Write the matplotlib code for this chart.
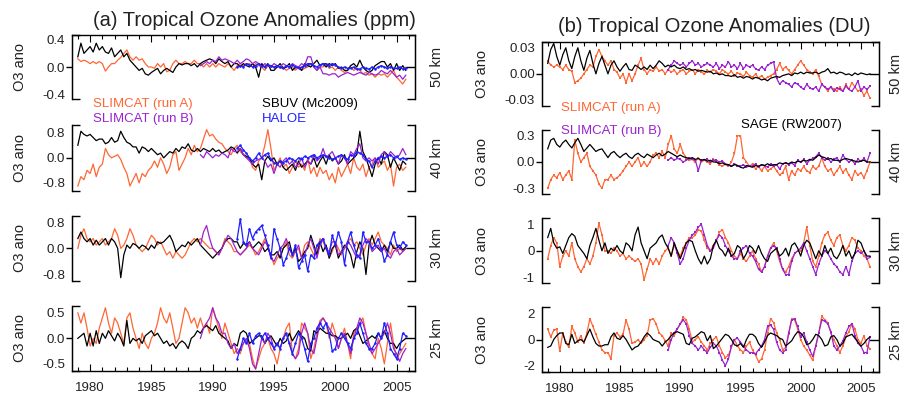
import numpy as np
import matplotlib
matplotlib.use('Agg')
import matplotlib.pyplot as plt
from matplotlib.ticker import FixedLocator, MultipleLocator

plt.rcParams['font.family'] = ['Liberation Sans', 'DejaVu Sans']

# quarterly anomalies (one row = one year, Jan/Apr/Jul/Oct)
# run A and the observations start in 1979, run B in 1989, HALOE in 1992
START_A = 1979
START_B = 1989
START_HALOE = 1992
year_ticks = [1980, 1985, 1990, 1995, 2000, 2005]

# ---------------- (a) ppm ----------------
a50_runA = [0.12, 0.08, 0.10, 0.08,   0.05, 0.08, 0.05, 0.08,   0.05, -0.06, 0.00, 0.05,
            0.05, 0.10, 0.14, 0.20,   0.25, 0.15, 0.10, 0.15,   0.10, 0.12, 0.05, 0.00,
            0.00, -0.02, 0.05, 0.00,  0.05, -0.07, -0.05, 0.05, 0.10, 0.05, 0.05, 0.08,
            0.05, 0.05, 0.10, 0.05,   0.05, 0.00, 0.05, 0.00,   0.05, 0.00, 0.05, 0.02,
            0.00, 0.05, 0.00, -0.05,  0.02, 0.05, 0.02, 0.05,   0.05, 0.00, 0.05, 0.02,
            0.00, -0.05, 0.02, 0.00,  0.00, 0.02, -0.02, 0.00,  -0.05, -0.02, 0.00, -0.05,
            0.00, -0.05, -0.02, 0.00, 0.05, 0.00, -0.05, 0.00,  0.00, 0.05, -0.02, 0.00,
            -0.05, 0.00, -0.05, -0.08, -0.05, 0.00, -0.05, -0.02, -0.05, -0.10, -0.08, -0.12,
            -0.10, -0.15, -0.10, -0.12, -0.10, -0.15, -0.10, -0.05, -0.15, -0.20, -0.25, -0.18]
a50_runB = [0.02, 0.05, 0.08, 0.05,   0.10, 0.08, 0.15, 0.10,   0.12, 0.10, 0.08, 0.05,
            0.10, 0.05, 0.08, 0.12,   0.10, 0.05, 0.08, 0.05,   0.00, 0.05, 0.02, 0.00,
            0.05, 0.02, 0.00, 0.05,   0.02, 0.00, 0.05, 0.02,   0.00, 0.05, 0.02, 0.15,
            0.15, 0.00, -0.05, 0.00,  -0.10, -0.10, -0.12, -0.10, -0.10, -0.15, -0.12, -0.10,
            -0.08, -0.10, -0.12, -0.10, -0.08, -0.10, -0.12, -0.08, -0.10, -0.12, -0.10, -0.05,
            -0.08, -0.10, -0.05, -0.10, -0.15, -0.12, -0.18, -0.12]
a50_sbuv = [0.15, 0.35, 0.20, 0.25,   0.30, 0.22, 0.35, 0.25,   0.30, 0.22, 0.20, 0.28,
            0.15, 0.20, 0.25, 0.15,   0.20, 0.10, 0.05, 0.00,   -0.05, -0.02, -0.10, -0.12,
            -0.08, -0.05, -0.02, -0.10, -0.05, -0.02, -0.05, -0.08, 0.00, 0.05, 0.03, 0.05,
            0.05, 0.02, 0.05, 0.00,   0.05, 0.08, 0.10, 0.12,   0.10, 0.05, 0.12, 0.08,
            0.05, 0.08, 0.00, 0.05,   0.05, 0.00, 0.05, 0.02,   0.00, 0.05, 0.00, -0.15,
            0.05, 0.00, 0.05, -0.05,  -0.05, 0.00, 0.05, -0.02, 0.00, 0.05, -0.05, 0.00,
            0.00, -0.05, 0.05, 0.02,  0.00, 0.05, 0.10, 0.02,   0.05, 0.00, 0.05, 0.02,
            0.05, -0.02, 0.00, -0.05, -0.05, 0.02, 0.05, 0.00,  0.10, 0.00, -0.05, -0.08,
            -0.05, 0.02, 0.05, 0.08,  0.08, 0.00, 0.05, -0.05,  0.05, -0.05, 0.02, -0.05]
a50_haloe = [0.00, 0.02, 0.00, 0.05,  0.03, 0.00, 0.02, 0.05,   0.02, 0.00, 0.03, 0.02,
             0.00, 0.02, 0.00, -0.02, 0.02, 0.00, 0.03, 0.00,   -0.02, 0.00, 0.02, 0.05,
             0.05, 0.02, 0.00, 0.03,  0.05, 0.05, 0.02, 0.05,   0.03, 0.00, -0.02, 0.00,
             -0.02, -0.02, 0.00, -0.03, -0.03, 0.00, -0.02, -0.03, 0.00, -0.03, 0.00, 0.02,
             0.00, -0.02, 0.00, -0.02, -0.02, 0.00, -0.03, -0.02]

a40_runA = [-0.90, -0.60, -0.70, -0.40, -0.50, -0.20, -0.60, -0.30, -0.20, 0.30, 0.10, 0.00,
            0.05, 0.10, -0.05, -0.30, -0.50, -0.90, -0.70, -0.50, -0.80, -0.50, -0.60, -0.40,
            -0.30, -0.10, -0.30, 0.00, -0.20, -0.50, -0.30, 0.10, 0.20, -0.40, -0.20, 0.00,
            0.30, 0.10, 0.40, 0.20,   0.30, 0.60, 0.90, 0.70,   0.75, 0.60, 0.50, 0.45,
            0.30, 0.20, 0.10, 0.30,   0.40, 0.20, 0.10, 0.00,   0.00, -0.30, -0.40, -0.10,
            0.00, 0.40, 0.90, 0.30,   -0.40, -0.20, 0.00, -0.30, -0.20, -0.50, -0.30, -0.10,
            -0.30, -0.20, -0.40, 0.00, -0.50, -0.30, -0.60, -0.30, -0.50, -0.40, -0.70, -0.50,
            -0.80, -0.30, -0.60, -0.40, -0.20, -0.50, 0.00, -0.30, -0.40, -0.20, -0.60, -0.30,
            -0.20, 0.00, -0.30, -0.20, -0.10, -0.40, -0.20, -0.90, -0.30, -0.20, -0.40, -0.30]
a40_runB = [0.10, 0.00, 0.20, 0.10,   0.00, 0.10, 0.05, 0.15,   0.10, 0.00, 0.30, 0.20,
            0.20, 0.30, 0.10, 0.00,   -0.10, -0.20, -0.10, -0.05, 0.00, -0.10, -0.30, -0.20,
            -0.50, -0.20, -0.30, -0.10, 0.00, -0.20, -0.10, -0.30, -0.20, 0.00, -0.30, -0.10,
            -0.20, 0.10, -0.10, 0.00, 0.30, 0.00, 0.10, 0.20,   0.00, -0.20, 0.10, 0.00,
            -0.20, 0.20, 0.10, 0.30,  0.45, 0.00, -0.10, 0.00,  -0.10, 0.00, -0.20, 0.10,
            0.20, 0.00, 0.20, 0.10,   0.00, 0.10, 0.30, 0.10]
a40_sbuv = [0.40, 0.85, 0.75, 0.70,   0.75, 0.65, 0.55, 0.60,   0.60, 0.45, 0.50, 0.65,
            0.50, 0.55, 0.85, 0.65,   0.50, 0.45, 0.35, 0.35,   0.15, 0.35, 0.30, 0.20,
            0.30, 0.20, 0.10, 0.15,   0.00, 0.10, 0.20, 0.15,   0.30, 0.20, 0.35, 0.30,
            0.45, 0.25, 0.20, 0.30,   0.20, 0.30, 0.25, 0.20,   0.30, 0.20, 0.25, 0.15,
            0.20, 0.25, 0.35, 0.30,   0.15, 0.30, 0.10, 0.05,   0.00, -0.20, -0.30, -0.20,
            -0.70, -0.10, 0.05, -0.10, 0.00, -0.20, -0.10, -0.30, -0.40, -0.30, -0.20, -0.40,
            -0.10, -0.30, -0.20, -0.10, -0.20, 0.00, -0.30, -0.10, 0.05, -0.20, 0.10, -0.10,
            0.00, -0.20, -0.10, 0.10, -0.20, -0.10, 0.00, 0.10,  0.85, 0.20, 0.00, -0.30,
            -0.60, -0.20, 0.00, -0.20, 0.20, 0.10, -0.30, 0.00,  -0.20, -0.40, -0.10, -0.20]
a40_haloe = [0.30, 0.40, 0.25, 0.15,  0.00, -0.10, 0.00, 0.15,  0.00, 0.10, 0.15, -0.05,
             -0.15, -0.20, -0.10, -0.15, -0.10, 0.00, -0.05, -0.10, 0.00, -0.05, 0.05, 0.00,
             0.05, 0.10, 0.00, 0.05,  0.10, 0.05, 0.00, -0.05,  0.00, 0.05, 0.10, 0.00,
             -0.05, 0.10, 0.05, 0.20, 0.15, 0.10, -0.05, -0.10, -0.30, -0.10, 0.00, 0.05,
             0.00, 0.05, 0.10, 0.00,  0.05, -0.05, 0.00, -0.05]

a30_runA = [0.00, 0.40, 0.60, 0.30,   0.20, 0.30, 0.10, 0.20,   0.30, 0.10, 0.20, 0.30,
            0.60, 0.40, 0.00, 0.10,   0.30, 0.60, 0.40, 0.10,   0.00, -0.10, 0.00, 0.20,
            0.40, 0.30, 0.10, 0.20,   0.00, -0.20, -0.10, -0.30, -0.10, -0.20, -0.30, -0.20,
            0.00, 0.20, 0.30, 0.20,   0.30, 0.20, 0.10, 0.00,   0.00, -0.10, -0.20, 0.00,
            0.30, 0.20, 0.10, -0.10,  -0.10, -0.20, -0.10, 0.00, 0.10, 0.00, -0.20, -0.10,
            0.10, 0.30, 0.00, -0.20,  -0.50, -0.30, -0.20, 0.00, 0.20, -0.20, -0.30, -0.10,
            0.00, -0.30, 0.10, 0.20,  0.00, -0.20, -0.10, 0.30,  0.20, 0.00, -0.30, -0.10,
            0.20, 0.00, -0.20, 0.00,  0.20, 0.30, 0.10, 0.20,   0.00, -0.20, 0.10, 0.30,
            0.10, 0.30, 0.50, 0.20,   0.10, 0.00, -0.20, 0.10,  -0.10, 0.00, -0.10, 0.00]
a30_runB = [0.10, 0.50, 0.70, 0.30,   0.00, -0.10, -0.20, 0.00, 0.20, 0.40, 0.30, 0.10,
            -0.10, -0.20, -0.10, 0.00, 0.20, 0.00, -0.10, -0.20, 0.00, 0.20, 0.10, -0.30,
            -0.40, -0.20, 0.00, 0.10, 0.30, 0.00, -0.20, -0.10,  0.10, -0.30, -0.20, 0.10,
            0.30, 0.00, -0.30, 0.10,  0.30, 0.00, -0.10, 0.20,   0.20, -0.20, -0.10, 0.00,
            0.20, 0.10, -0.10, -0.30, -0.20, 0.10, 0.30, 0.20,   -0.10, 0.00, 0.10, -0.10,
            0.00, -0.20, -0.30, -0.10, 0.00, -0.20, -0.10, 0.00]
a30_sbuv = [0.30, 0.50, 0.30, 0.20,   0.30, 0.10, 0.25, 0.10,   0.20, 0.30, 0.10, 0.30,
            0.20, 0.00, -0.90, -0.20, 0.10, 0.00, 0.15, 0.10,   0.00, 0.10, 0.05, -0.05,
            0.10, 0.00, 0.20, 0.15,   0.20, 0.30, 0.40, 0.20,   -0.10, 0.00, 0.10, 0.05,
            0.20, 0.10, 0.20, 0.30,   0.10, 0.00, -0.10, -0.20, -0.30, -0.20, -0.10, 0.00,
            0.20, 0.30, 0.30, 0.20,   0.20, 0.00, 0.15, 0.10,   0.20, 0.00, 0.10, 0.20,
            0.10, -0.10, 0.00, -0.20, -0.20, -0.10, -0.30, 0.00, 0.10, 0.20, -0.20, 0.00,
            -0.40, -0.30, -0.10, 0.00, 0.40, 0.10, -0.20, 0.20,  -0.10, 0.10, -0.30, 0.00,
            0.10, -0.30, -0.10, 0.10, 0.00, -0.20, -0.60, -0.10, 0.20, 0.00, -0.80, 0.10,
            0.40, 0.10, 0.00, -0.10,  0.10, -0.10, 0.20, 0.00,  0.00, 0.10, -0.05, 0.05]
a30_haloe = [0.30, 0.90, 0.20, 0.10,  0.60, 0.30, 0.50, 0.60,   0.70, 0.40, 0.10, -0.30,
             0.60, 0.30, 0.00, -0.50, -0.30, 0.00, -0.20, 0.10, -0.60, -0.40, -0.20, -0.70,
             -0.20, -0.30, 0.10, 0.20, 0.30, 0.00, -0.20, 0.40,  0.10, 0.50, 0.20, -0.50,
             0.20, 0.50, 0.10, -0.20, -0.30, 0.50, 0.20, 0.20,  0.00, 0.10, 0.30, 0.00,
             -0.40, -0.20, 0.20, 0.50, 0.10, 0.00, 0.20, 0.10]

a25_runA = [0.50, 0.30, 0.50, 0.20,   -0.15, 0.00, -0.10, 0.20, 0.40, 0.60, 0.30, 0.10,
            0.40, 0.30, 0.10, -0.10,  0.40, 0.50, 0.20, 0.00,   -0.20, 0.10, -0.10, -0.20,
            0.00, 0.10, 0.30, 0.60,   0.40, 0.30, 0.50, 0.20,   -0.10, 0.00, 0.30, 0.60,
            0.50, 0.30, 0.40, 0.20,   0.40, 0.20, 0.30, 0.10,   0.60, 0.40, 0.20, 0.00,
            0.30, 0.10, -0.10, -0.30, -0.20, -0.30, -0.10, 0.00, -0.10, -0.40, -0.60, -0.40,
            -0.20, -0.10, 0.00, -0.20, -0.30, -0.50, -0.20, 0.00, 0.20, 0.30, -0.30, -0.40,
            -0.20, 0.30, 0.20, 0.10,  -0.40, -0.20, 0.10, 0.35, 0.40, 0.30, 0.00, 0.30,
            0.10, -0.20, 0.00, 0.20,  -0.10, -0.40, 0.10, 0.20, 0.30, 0.40, 0.10, -0.20,
            -0.30, -0.40, 0.00, -0.20, -0.50, -0.10, 0.30, -0.10, -0.40, -0.30, -0.20, -0.10]
a25_runB = [0.00, 0.20, 0.30, 0.40,   0.60, 0.40, 0.30, 0.10,   0.10, -0.10, -0.20, -0.10,
            -0.30, -0.20, -0.10, 0.00, -0.20, -0.50, -0.60, -0.30, 0.00, -0.10, 0.10, 0.00,
            -0.20, -0.10, -0.20, 0.00, 0.10, -0.10, -0.30, -0.40, -0.30, 0.10, 0.30, 0.10,
            -0.20, -0.30, 0.00, 0.30, 0.40, 0.30, 0.20, 0.10,   0.00, -0.20, 0.00, 0.10,
            -0.10, -0.30, 0.00, 0.20, 0.40, 0.30, 0.10, -0.10,  -0.30, -0.20, -0.10, 0.00,
            0.10, 0.30, 0.10, -0.20,  -0.30, -0.45, -0.30, -0.20]
a25_sbuv = [0.00, 0.05, 0.10, -0.15,  0.10, -0.15, 0.15, -0.10, 0.10, 0.00, 0.15, 0.05,
            -0.05, 0.10, 0.00, -0.15, 0.35, -0.10, 0.00, -0.05, 0.00, -0.10, 0.05, 0.10,
            0.15, 0.05, 0.10, 0.00,   -0.10, -0.05, -0.15, -0.10, -0.20, -0.10, -0.05, -0.10,
            -0.20, 0.00, 0.05, 0.15,  0.10, 0.20, 0.25, 0.20,   0.15, 0.25, 0.10, 0.05,
            0.00, -0.05, -0.20, -0.10, -0.15, 0.10, 0.15, 0.10, -0.10, -0.05, 0.00, 0.05,
            0.05, -0.10, 0.00, 0.05,  -0.05, -0.15, 0.00, -0.10, -0.05, 0.10, -0.05, 0.05,
            0.15, 0.05, 0.00, -0.20,  -0.25, 0.15, 0.10, 0.20,  0.15, 0.10, 0.10, 0.05,
            0.05, 0.00, 0.00, 0.05,   0.10, 0.00, 0.15, 0.20,   0.05, -0.10, -0.05, 0.00,
            0.05, 0.00, 0.10, 0.00,   0.15, 0.00, -0.10, -0.10, -0.20, -0.10, -0.05, 0.00]
a25_haloe = [-0.40, -0.20, 0.00, -0.10, 0.10, -0.10, 0.05, 0.10, 0.00, 0.10, 0.00, -0.10,
             -0.20, -0.10, -0.20, 0.00, 0.10, -0.10, -0.30, -0.10, 0.10, 0.00, -0.20, -0.45,
             -0.10, 0.00, 0.20, 0.30, 0.20, 0.30, 0.10, -0.25,  -0.20, 0.00, 0.10, 0.00,
             -0.10, -0.20, 0.00, 0.10, 0.30, 0.10, -0.10, -0.20, -0.20, -0.10, 0.10, 0.00,
             0.30, 0.10, -0.20, -0.30, -0.40, -0.20, 0.10, 0.05]

# ---------------- (b) DU ----------------
b50_runA = [0.015, 0.010, 0.008, 0.010,  0.008, 0.005, 0.010, 0.005,  0.003, -0.010, -0.008, -0.005,
            0.000, 0.005, 0.010, 0.008,  0.020, 0.028, 0.020, 0.015,  0.010, 0.015, 0.005, 0.002,
            -0.005, 0.000, -0.010, 0.000, -0.008, 0.000, 0.010, 0.018, 0.005, 0.000, 0.005, 0.003,
            0.008, 0.003, 0.005, 0.000,  0.005, 0.002, 0.004, 0.000,  0.003, 0.005, 0.000, 0.003,
            0.005, 0.000, 0.005, 0.002,  0.000, 0.004, 0.002, 0.005,  0.003, 0.000, 0.005, 0.002,
            0.000, 0.003, -0.002, 0.001, 0.000, -0.003, 0.002, -0.002, -0.004, 0.000, -0.005, -0.002,
            -0.006, -0.004, -0.002, 0.000, 0.005, 0.012, 0.005, 0.008, 0.004, 0.000, 0.005, 0.010,
            0.015, 0.010, 0.005, 0.002,  0.000, 0.005, -0.003, -0.012, -0.015, -0.020, -0.015, -0.018,
            -0.020, -0.015, -0.020, -0.012, -0.018, -0.010, -0.015, -0.020, -0.018, -0.025, -0.020, -0.028]
b50_runB = [0.005, 0.010, 0.015, 0.012,  0.010, 0.012, 0.008, 0.012,  0.015, 0.010, 0.012, 0.008,
            0.010, 0.012, 0.010, 0.008,  0.012, 0.006, 0.010, 0.008,  0.014, 0.008, 0.010, 0.006,
            0.012, 0.006, 0.010, 0.008,  0.010, 0.006, 0.004, 0.008,  0.005, 0.010, 0.012, 0.014,
            -0.005, -0.012, -0.008, -0.010, -0.012, -0.015, -0.010, -0.012, -0.015, -0.018, -0.012, -0.016,
            -0.018, -0.015, -0.020, -0.012, -0.015, -0.018, -0.015, -0.020, -0.016, -0.018, -0.020, -0.014,
            -0.018, -0.020, -0.015, -0.008, -0.020, -0.015, -0.018, -0.014]
b50_sage = [0.012, 0.028, 0.035, 0.020,  0.010, 0.022, 0.030, 0.015,  0.006, 0.020, 0.030, 0.015,
            0.004, 0.018, 0.027, 0.012,  0.000, 0.012, 0.020, 0.010,  0.000, 0.010, 0.015, 0.008,
            0.003, 0.008, 0.012, 0.005,  0.004, 0.010, 0.008, 0.005,  0.008, 0.005, 0.010, 0.006,
            0.010, 0.015, 0.012, 0.008,  0.010, 0.008, 0.010, 0.007,  0.006, 0.008, 0.005, 0.006,
            0.004, 0.005, 0.003, 0.004,  0.003, 0.002, 0.003, 0.000,  0.001, -0.001, 0.000, -0.002,
            -0.002, -0.003, -0.001, -0.004, -0.003, -0.005, -0.003, -0.004, -0.006, -0.004, -0.005, -0.007,
            -0.006, -0.008, -0.005, -0.004, -0.003, -0.004, -0.002, -0.001, 0.000, -0.002, 0.001, 0.000,
            0.002, 0.000, 0.002, 0.001,  0.001, 0.002, 0.000, 0.002,  0.003, 0.006, 0.001, 0.002,
            0.000, 0.002, 0.001, -0.001, 0.000, -0.002, 0.001, -0.001, 0.001, 0.000, -0.001, 0.000]

b40_runA = [-0.30, -0.20, -0.15, -0.18, -0.12, -0.20, -0.15, -0.10, -0.20, 0.25, 0.10, 0.00,
            0.05, 0.10, -0.05, -0.10, -0.15, -0.25, -0.30, -0.20, -0.20, -0.15, -0.20, -0.18,
            -0.15, -0.10, -0.05, 0.00, -0.05, 0.00, 0.05, -0.05, 0.00, -0.05, 0.00, 0.08,
            0.10, 0.05, 0.12, 0.05,   0.20, 0.30, 0.15, 0.10,   0.20, 0.10, 0.05, 0.02,
            0.03, 0.00, 0.05, 0.00,   0.02, 0.00, -0.02, 0.03,  0.00, -0.03, -0.05, -0.02,
            -0.05, 0.00, 0.10, 0.30,  0.30, 0.05, 0.00, -0.05,  -0.02, -0.08, -0.05, -0.10,
            -0.05, -0.10, -0.08, -0.05, -0.10, -0.15, -0.12, -0.05, -0.20, -0.10, -0.15, -0.08,
            -0.10, -0.05, -0.10, -0.12, -0.05, -0.08, -0.05, 0.05, -0.05, -0.10, -0.08, -0.15,
            -0.10, -0.05, -0.12, -0.08, -0.15, -0.20, -0.10, -0.15, -0.12, -0.18, -0.10, 0.00]
b40_runB = [0.02, 0.05, 0.02, 0.04,   0.03, 0.00, 0.02, 0.04,   0.03, 0.02, -0.10, 0.02,
            0.02, 0.03, 0.00, 0.02,   0.02, 0.00, 0.01, -0.02,  -0.03, -0.05, -0.02, -0.04,
            -0.05, -0.03, -0.06, -0.04, -0.05, -0.02, -0.06, -0.03, -0.04, -0.06, -0.02, -0.05,
            -0.03, -0.08, -0.02, -0.01, -0.03, -0.01, -0.04, 0.02, 0.00, 0.03, -0.02, 0.02,
            0.04, 0.06, 0.10, 0.05,   0.02, 0.04, 0.00, 0.03,   0.05, 0.00, 0.08, 0.03,
            0.00, 0.02, -0.02, 0.03,  0.01, 0.04, 0.00, 0.10]
b40_sage = [0.15, 0.25, 0.27, 0.20,   0.17, 0.22, 0.25, 0.20,   0.16, 0.22, 0.27, 0.20,
            0.12, 0.16, 0.20, 0.16,   0.12, 0.14, 0.15, 0.10,   0.05, 0.10, 0.12, 0.08,
            0.05, 0.08, 0.10, 0.06,   0.04, 0.08, 0.10, 0.07,   0.05, 0.09, 0.07, 0.05,
            0.08, 0.10, 0.07, 0.09,   0.12, 0.10, 0.08, 0.06,   0.08, 0.06, 0.05, 0.04,
            0.05, 0.03, 0.04, 0.02,   0.03, 0.01, 0.02, 0.00,   0.00, -0.02, -0.01, -0.03,
            -0.03, -0.05, -0.03, -0.04, -0.06, -0.07, -0.04, -0.05, -0.06, -0.04, -0.05, -0.03,
            -0.04, -0.02, -0.04, -0.03, -0.03, -0.01, -0.02, -0.01, -0.02, 0.00, -0.01, 0.01,
            0.00, 0.02, 0.01, 0.03,   0.02, 0.05, 0.08, 0.06,   0.05, 0.03, 0.04, 0.02,
            0.02, 0.01, 0.03, 0.04,   0.03, 0.02, 0.01, 0.00,   0.01, 0.02, 0.00, 0.00]

b30_runA = [-0.30, 0.20, 0.50, 0.30,  -0.60, -0.20, 0.00, -0.20, 0.30, -0.30, -0.60, -0.80,
            -0.60, -0.30, -0.50, -0.20, 0.30, 1.05, 0.60, 0.00,  0.00, -0.10, 0.10, 0.00,
            -0.20, -0.10, -0.30, -0.20, -0.30, -0.40, -0.30, -0.50, -1.10, -0.70, -0.30, -0.50,
            -0.30, -0.50, -0.20, 0.00, 0.10, -0.20, 0.20, 0.00,   -0.20, 0.10, 0.30, 0.50,
            0.50, 0.60, 0.80, 0.75,   0.40, 0.10, 0.00, 0.20,   0.40, 0.70, 0.80, 0.50,
            0.30, 0.00, -0.20, -0.30, -0.10, -0.30, -0.40, -0.20, 0.00, -0.30, -0.50, -0.80,
            -0.60, -0.20, 0.10, 0.30, 0.00, -0.40, -0.70, -0.80,  -0.60, -0.30, -0.10, 0.00,
            0.00, 0.30, 0.90, 0.20,   -0.40, -0.60, -0.20, 0.30, 0.60, 0.70, 0.40, 0.20,
            0.50, 0.60, 0.20, 0.00,   0.20, 0.50, 0.40, 0.10,   0.00, -0.20, -0.30, -0.60]
b30_runB = [0.20, 0.50, 0.30, -0.10,  -0.50, -0.30, 0.10, 0.40, 0.60, 0.70, 0.90, 1.00,
            0.60, 0.20, 0.00, 0.10,   0.40, 0.60, 0.50, 0.20,   0.00, -0.20, -0.30, -0.30,
            0.00, 0.10, 0.20, -0.10,  -0.20, -0.40, -0.70, -0.80, -0.60, -0.20, 0.10, 0.20,
            0.10, -0.30, -0.70, -0.90, -0.90, -0.40, -0.10, 0.00, 0.10, 0.30, 0.00, -0.30,
            -0.60, -0.90, -0.50, -0.20, 0.00, -0.10, -0.30, -0.50, -0.60, -0.80, -0.90, -0.60,
            -0.90, -0.40, -0.10, 0.00, -0.10, 0.00, -0.30, -0.25]
b30_sage = [0.50, 0.85, 0.30, 0.10,   0.15, -0.10, 0.20, 0.50,  0.65, 0.55, 0.20, 0.05,
            -0.10, -0.30, 0.20, 0.50, 0.85, 0.40, 0.00, 0.30,   -0.10, 0.10, 0.00, 0.20,
            0.00, -0.10, 0.30, 0.20,  0.00, 0.60, 0.90, 0.30,   0.00, -0.30, 0.10, 0.20,
            0.30, 0.50, 0.60, 0.30,   0.10, -0.20, 0.30, 0.00,  -0.30, 0.00, 0.30, 0.40,
            0.35, 0.00, -0.30, -0.50, -0.20, -0.50, -0.30, 0.20, 0.40, 0.10, 0.00, -0.20,
            0.10, -0.20, -0.10, 0.20, 0.10, -0.30, -0.10, 0.20,  0.10, -0.10, 0.20, -0.10,
            -0.30, -0.40, -0.10, 0.00, 0.10, -0.20, -0.10, 0.10, -0.20, 0.20, 0.30, 0.10,
            -0.20, 0.20, 0.40, 0.30,  0.00, -0.30, 0.00, -0.20, 0.20, -0.10, 0.10, -0.20,
            -0.30, -0.10, 0.20, -0.20, 0.00, -0.30, -0.10, 0.40, 0.30, 0.00, -0.20, -0.20]

b25_runA = [0.80, 0.20, 0.70, 0.80,   -0.90, 0.50, -0.20, -0.60, 1.00, 0.50, -0.20, 0.30,
            -0.30, 0.50, 1.60, 1.00,  0.40, -0.20, -0.80, -1.00, -1.00, -1.50, 0.30, 0.50,
            0.20, 0.40, 1.50, 0.80,   -0.30, -0.20, 0.00, -0.30, 0.00, 0.30, 1.50, 1.60,
            1.20, 0.50, 0.30, -0.10,  -0.50, 0.50, 0.30, 0.80,  1.20, 1.70, 1.50, 0.80,
            -0.20, 0.00, 0.20, -0.20, -0.50, -0.80, -0.30, 0.00, 0.20, -0.50, -1.00, -1.40,
            -1.20, -0.60, 0.00, -0.50, -0.80, -1.00, -0.50, -0.20, -0.80, -1.20, -1.70, -1.50,
            -0.80, 0.50, 1.60, 1.30,  0.50, 0.00, -0.80, -0.60,  0.40, 1.60, 1.50, 0.80,
            0.00, -0.50, -0.80, -1.20, -1.60, -0.50, 0.50, 1.80, 1.50, 1.30, 0.50, 0.00,
            -0.50, -1.00, -0.50, 0.20, 0.60, 1.20, 0.80, 0.00,  -0.30, 0.30, -0.50, -0.70]
b25_runB = [-0.80, 0.00, 0.50, 0.80,  1.20, 1.50, 1.20, 0.30,   -0.30, -0.50, -0.80, -0.50,
            -0.80, -1.00, -0.60, -0.30, -0.50, -1.00, -1.60, -2.00, -1.50, -0.50, 0.00, 0.10,
            -0.20, -0.50, -0.80, -1.00, -1.00, -1.10, -0.80, -0.50, 0.00, 1.00, 1.10, 0.80,
            -0.20, -0.80, -1.00, -0.80, 0.50, 1.50, 1.60, 1.00,  0.20, 0.50, -0.20, -0.80,
            -1.30, -0.50, 0.50, 1.50, 1.40, 1.20, 0.60, -0.50,  -0.80, -0.50, -0.10, 0.50,
            1.00, 1.20, 0.30, -0.30,  -0.50, -1.00, -1.00, 0.20]
b25_sage = [-0.60, -0.50, 0.00, 0.30, 0.50, 0.50, -0.30, -0.40, 0.40, -0.30, -0.10, 0.00,
            -0.20, 0.30, 0.80, 0.20,  -0.30, -0.50, -0.50, -0.40, -0.40, 0.20, 0.50, 0.10,
            0.00, 0.30, 0.00, -0.40,  -0.80, -0.60, -0.50, -0.20, 0.20, 0.50, 0.30, 0.00,
            -0.10, -0.20, -0.50, -0.20, 0.00, 0.30, 0.50, 0.60,  0.50, 0.40, -0.30, -0.40,
            0.10, 0.20, 0.40, 0.60,   0.50, -0.10, 0.30, -0.70, -0.50, -0.20, 0.10, 0.40,
            0.30, 0.00, -0.40, -0.50, -0.30, -0.60, 0.00, 0.40, 0.40, 0.20, -0.30, -0.60,
            -0.20, 0.30, 0.50, 0.40,  0.30, 0.10, 0.00, -0.50,  -0.30, -0.10, 0.30, 0.60,
            0.50, 0.20, -0.40, -0.30, 0.00, 0.40, 0.30, 0.00,   -0.50, -0.40, 0.20, 0.30,
            0.00, -0.50, -0.30, 0.20, 0.30, 0.40, 0.10, -0.20,  -0.50, -0.30, 0.00, 0.20]

ORANGE = '#ff6633'
PURPLE = '#9a22d0'
BLUE = '#1f1fff'
TXT = '#222222'

W, H = 905, 399
fig = plt.figure(figsize=(W / 100, H / 100), dpi=100)


def qtime(start, vals):
    return start + 0.25 * np.arange(len(vals))


def make_axes(x0, x1, top, bot):
    return fig.add_axes([x0 / W, 1 - bot / H, (x1 - x0) / W, (bot - top) / H])


def style_axes(ax, lim, ticks, labels, km, row, right_col):
    ax.set_xlim(1978.5, 2006.5)
    ax.set_ylim(-lim, lim)
    for s in ax.spines.values():
        s.set_linewidth(1.0)
        s.set_color('k')
    ax.spines['top'].set_visible(row == 0)
    ax.spines['bottom'].set_visible(row == 3)
    # y labels without marks, bracket ends at the limits
    ax.set_yticks(ticks)
    ax.set_yticklabels(labels)
    ax.tick_params(axis='y', which='major', length=0, pad=5, labelsize=9.5, labelcolor=TXT)
    ax.yaxis.set_minor_locator(FixedLocator([-lim, lim]))
    ax.tick_params(axis='y', which='minor', direction='in', length=6, width=1.0,
                   left=True, right=True)
    # zero marks: outward on the left, inward on the right
    sl = ax.secondary_yaxis('left')
    sl.set_yticks([0])
    sl.set_yticklabels([])
    sl.tick_params(direction='out', length=4, width=1.0)
    sr = ax.secondary_yaxis('right')
    sr.set_yticks([0])
    sr.set_yticklabels([])
    sr.tick_params(direction='in', length=7, width=1.0)
    # time axis
    ax.xaxis.set_major_locator(FixedLocator(year_ticks))
    ax.xaxis.set_minor_locator(MultipleLocator(1))
    ax.tick_params(axis='x', which='both', direction='in', top=(row == 0),
                   bottom=(row == 3), labelbottom=(row == 3), width=0.8,
                   labelsize=9.5, labelcolor=TXT, pad=8)
    ax.tick_params(axis='x', which='major', length=5)
    ax.tick_params(axis='x', which='minor', length=3)
    ax.patch.set_alpha(0)
    pos = ax.get_position()
    yc = pos.y0 + pos.height / 2
    lx = 482 if right_col else 20
    rx = 896 if right_col else 437
    fig.text(lx / W, yc, 'O3 ano', rotation=90, ha='center', va='center',
             fontsize=10.5, color=TXT)
    fig.text(rx / W, yc, km, rotation=90, ha='center', va='center',
             fontsize=10.5, color=TXT)


left_rows = [(35, 99), (125, 190.7), (215.7, 281), (305.7, 371)]
right_rows = [(41.7, 106), (130, 194), (218.3, 283.3), (307.3, 371.7)]
km_labels = ['50 km', '40 km', '30 km', '25 km']

left_panels = [
    (a50_runA, a50_runB, a50_sbuv, a50_haloe, 0.47, [-0.4, 0, 0.4], ['-0.4', '0.0', '0.4']),
    (a40_runA, a40_runB, a40_sbuv, a40_haloe, 1.05, [-0.8, 0, 0.8], ['-0.8', '0.0', '0.8']),
    (a30_runA, a30_runB, a30_sbuv, a30_haloe, 1.0, [-0.8, 0, 0.8], ['-0.8', '0.0', '0.8']),
    (a25_runA, a25_runB, a25_sbuv, a25_haloe, 0.64, [-0.5, 0, 0.5], ['-0.5', '0.0', '0.5']),
]
right_panels = [
    (b50_runA, b50_runB, b50_sage, 0.037, [-0.03, 0, 0.03], ['-0.03', '0.00', '0.03']),
    (b40_runA, b40_runB, b40_sage, 0.365, [-0.3, 0, 0.3], ['-0.3', '0.0', '0.3']),
    (b30_runA, b30_runB, b30_sage, 1.23, [-1, 0, 1], ['-1', '0', '1']),
    (b25_runA, b25_runB, b25_sage, 2.47, [-2, 0, 2], ['-2', '0', '2']),
]

for i, (runA, runB, obs, haloe, lim, ticks, labels) in enumerate(left_panels):
    ax = make_axes(71.7, 415, *left_rows[i])
    ax.plot(qtime(START_A, runA), runA, color=ORANGE, lw=0.9)
    ax.plot(qtime(START_A, obs), obs, color='k', lw=0.9)
    ax.plot(qtime(START_B, runB), runB, color=PURPLE, lw=0.9)
    ax.plot(qtime(START_HALOE, haloe), haloe, color=BLUE, lw=0.9,
            marker='o', ms=1.8, mew=0)
    style_axes(ax, lim, ticks, labels, km_labels[i], i, False)

for i, (runA, runB, obs, lim, ticks, labels) in enumerate(right_panels):
    ax = make_axes(541.7, 879, *right_rows[i])
    ax.plot(qtime(START_A, runA), runA, color=ORANGE, lw=0.9,
            marker='s', ms=1.8, mew=0)
    ax.plot(qtime(START_B, runB), runB, color=PURPLE, lw=0.9,
            marker='s', ms=1.8, mew=0)
    ax.plot(qtime(START_A, obs), obs, color='k', lw=0.9)
    style_axes(ax, lim, ticks, labels, km_labels[i], i, True)

fig.text(254 / W, 1 - 21 / H, '(a) Tropical Ozone Anomalies (ppm)', ha='center',
         va='center', fontsize=14.5, color=TXT)
fig.text(714 / W, 1 - 26 / H, '(b) Tropical Ozone Anomalies (DU)', ha='center',
         va='center', fontsize=14.5, color=TXT)

legend_txt = [
    (93, 104, 'SLIMCAT (run A)', ORANGE), (93, 119, 'SLIMCAT (run B)', PURPLE),
    (262, 104, 'SBUV (Mc2009)', 'k'), (262, 119, 'HALOE', BLUE),
    (561, 108, 'SLIMCAT (run A)', ORANGE), (561, 131, 'SLIMCAT (run B)', PURPLE),
    (741, 125, 'SAGE (RW2007)', 'k'),
]
for x, y, s, c in legend_txt:
    fig.text(x / W, 1 - y / H, s, ha='left', va='center', fontsize=9.5, color=c)

fig.savefig('out.png', dpi=100)
